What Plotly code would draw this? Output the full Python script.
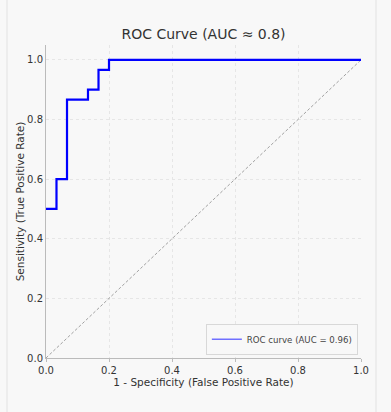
import plotly.graph_objects as go

fpr = [0.0, 0.0333, 0.0333, 0.0667, 0.0667, 0.1333, 0.1333, 0.1667, 0.1667, 0.2, 0.2, 1.0]
tpr = [0.5, 0.5, 0.6, 0.6, 0.8667, 0.8667, 0.9, 0.9, 0.9667, 0.9667, 1.0, 1.0]
diag_x = [0.0, 1.0]
diag_y = [0.0, 1.0]
tick_vals = [0.0, 0.2, 0.4, 0.6, 0.8, 1.0]
tick_text = ["0.0", "0.2", "0.4", "0.6", "0.8", "1.0"]

W, H = 391, 412
L, R, T, B = 46, 30, 45, 54
pw, ph = W - L - R, H - T - B

fig = go.Figure()
fig.add_trace(go.Scatter(x=diag_x, y=diag_y, mode="lines",
                         line=dict(color="#8a8a8a", width=0.8, dash="3px,2px"),
                         showlegend=False, hoverinfo="skip"))
fig.add_trace(go.Scatter(x=fpr, y=tpr, mode="lines", name="ROC curve (AUC = 0.96)",
                         line=dict(color="#0000ff", width=2.2), showlegend=False))
# legend entry (drawn lighter, as in the reference legend handle)
fig.add_trace(go.Scatter(x=[None], y=[None], mode="lines", name="ROC curve (AUC = 0.96)",
                         line=dict(color="#7070ff", width=1.5)))

bg = "#f8f8f8"
fig.update_layout(
    width=W, height=H,
    margin=dict(l=L, r=R, t=T, b=B, autoexpand=False),
    paper_bgcolor=bg, plot_bgcolor=bg,
    font=dict(family="DejaVu Sans", color="#333333", size=10),
    title=dict(text="ROC Curve (AUC ≈ 0.8)", x=(L + pw / 2) / W, xanchor="center",
               y=1 - 34 / H, yanchor="middle", font=dict(size=14, color="#333333")),
    legend=dict(x=0.99, y=0.01, xanchor="right", yanchor="bottom",
                bgcolor=bg, bordercolor="#d8d8d8", borderwidth=1,
                font=dict(size=8.6, color="#444444"), itemwidth=30,
                tracegroupgap=0, itemsizing="trace"),
    showlegend=True,
)
fig.update_xaxes(range=[0, 1], tickvals=tick_vals, ticktext=tick_text, automargin=False,
                 showgrid=True, gridcolor="#e6e6e6", griddash="dot", gridwidth=1,
                 showline=True, linecolor="#bbbbbb", linewidth=1, mirror=False,
                 ticks="outside", ticklen=3, tickcolor="#bbbbbb",
                 zeroline=False,
                 title=dict(text="1 - Specificity (False Positive Rate)", standoff=1,
                            font=dict(size=10.5, color="#333333")),
                 tickfont=dict(size=10, color="#333333"))
fig.update_yaxes(range=[0, 1.05], tickvals=tick_vals, ticktext=tick_text, automargin=False,
                 showgrid=True, gridcolor="#e6e6e6", griddash="dot", gridwidth=1,
                 showline=True, linecolor="#bbbbbb", linewidth=1, mirror=False,
                 ticks="", zeroline=False,
                 title=dict(text="Sensitivity (True Positive Rate)", standoff=0,
                            font=dict(size=10.5, color="#333333")),
                 tickfont=dict(size=10, color="#333333"))

# outer frame lines of the figure image
for px in (7, 376):
    xp = (px - L) / pw
    fig.add_shape(type="line", xref="paper", yref="paper",
                  x0=xp, x1=xp, y0=-B / ph, y1=(H - B) / ph,
                  line=dict(color="#e2e2e2", width=1))

fig.write_html("out.html", config={"displayModeBar": False},
               post_script="document.body.style.margin='0';document.body.style.background='#f8f8f8';")
